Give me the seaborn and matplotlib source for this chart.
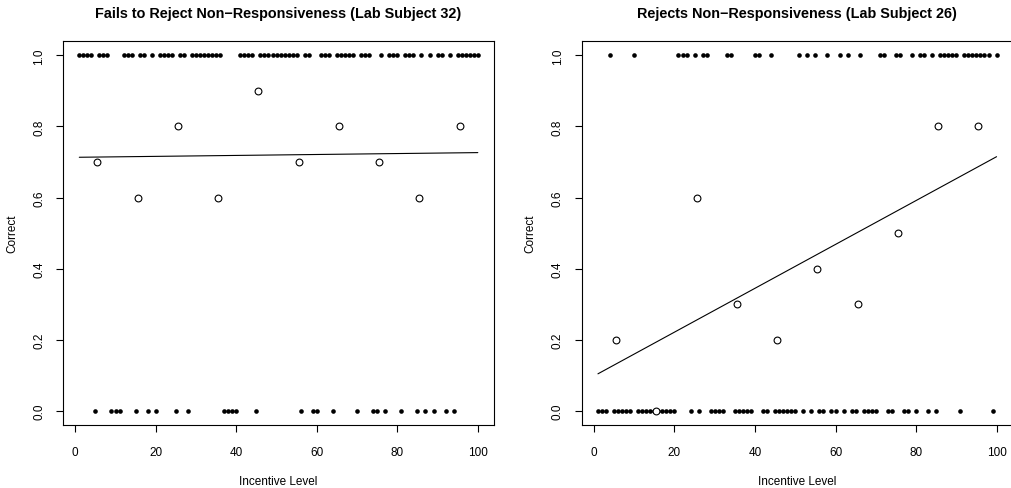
import matplotlib
matplotlib.use("Agg")
import matplotlib.pyplot as plt
import numpy as np
import pandas as pd
import seaborn as sns

sns.set_style("white")
plt.rcParams['font.family'] = ['Liberation Sans', 'DejaVu Sans']
plt.rcParams['text.color'] = 'black'
plt.rcParams['axes.labelcolor'] = 'black'
plt.rcParams['xtick.color'] = 'black'
plt.rcParams['ytick.color'] = 'black'

# incentive levels 1..100
incentive = list(range(1, 101))

# Lab Subject 32: correct (1) / incorrect (0), read in rows of 10
correct_32 = [1, 1, 1, 1, 0, 1, 1, 1, 0, 0,
              0, 1, 1, 1, 0, 1, 1, 0, 1, 0,
              1, 1, 1, 1, 0, 1, 1, 0, 1, 1,
              1, 1, 1, 1, 1, 1, 0, 0, 0, 0,
              1, 1, 1, 1, 0, 1, 1, 1, 1, 1,
              1, 1, 1, 1, 1, 0, 1, 1, 0, 0,
              1, 1, 1, 0, 1, 1, 1, 1, 1, 0,
              1, 1, 1, 0, 0, 1, 0, 1, 1, 1,
              0, 1, 1, 1, 0, 1, 0, 1, 0, 1,
              1, 0, 1, 0, 1, 1, 1, 1, 1, 1]

# Lab Subject 26
correct_26 = [0, 0, 0, 1, 0, 0, 0, 0, 0, 1,
              0, 0, 0, 0, 0, 0, 0, 0, 0, 0,
              1, 1, 1, 0, 1, 0, 1, 1, 0, 0,
              0, 0, 1, 1, 0, 0, 0, 0, 0, 1,
              1, 0, 0, 1, 0, 0, 0, 0, 0, 0,
              1, 0, 1, 0, 1, 0, 0, 1, 0, 0,
              1, 0, 1, 0, 0, 1, 0, 0, 0, 0,
              1, 1, 0, 0, 1, 1, 0, 0, 1, 0,
              1, 1, 0, 1, 0, 1, 1, 1, 1, 1,
              0, 1, 1, 1, 1, 1, 1, 1, 0, 1]

# binned means (open circles)
bin_centers = [5.5, 15.5, 25.5, 35.5, 45.5, 55.5, 65.5, 75.5, 85.5, 95.5]
bin_means_32 = [0.7, 0.6, 0.8, 0.6, 0.9, 0.7, 0.8, 0.7, 0.6, 0.8]
bin_means_26 = [0.2, 0.0, 0.6, 0.3, 0.2, 0.4, 0.3, 0.5, 0.8, 0.8]

titles = ["Fails to Reject Non\u2212Responsiveness (Lab Subject 32)",
          "Rejects Non\u2212Responsiveness (Lab Subject 26)"]

fig = plt.figure(figsize=(10.12, 4.89), dpi=100)
ax1 = fig.add_axes([0.0626, 0.128, 0.4253, 0.786])
ax2 = fig.add_axes([0.5751, 0.128, 0.4254, 0.786])

panels = [(ax1, correct_32, bin_means_32, titles[0]),
          (ax2, correct_26, bin_means_26, titles[1])]

for ax, corr, means, title in panels:
    df = pd.DataFrame({"Incentive Level": incentive, "Correct": corr})
    sns.scatterplot(data=df, x="Incentive Level", y="Correct", ax=ax,
                    color="black", s=11, linewidth=0, zorder=3)
    sns.regplot(data=df, x="Incentive Level", y="Correct", ax=ax,
                scatter=False, ci=None, line_kws={"color": "black", "lw": 0.8})
    ax.scatter(bin_centers, means, s=24, facecolors="white",
               edgecolors="black", linewidths=0.8, zorder=4)
    ax.set_xlim(-2.96, 103.96)
    ax.set_ylim(-0.04, 1.04)
    ax.set_xticks([0, 20, 40, 60, 80, 100])
    ax.set_yticks([0.0, 0.2, 0.4, 0.6, 0.8, 1.0])
    ax.set_yticklabels(["0.0", "0.2", "0.4", "0.6", "0.8", "1.0"],
                       rotation=90, va="center")
    ax.tick_params(axis="both", direction="out", length=5, width=0.8,
                   labelsize=8.5, color="black", left=True, bottom=True)
    ax.tick_params(axis="x", pad=10)
    ax.tick_params(axis="y", pad=8)
    for sp in ax.spines.values():
        sp.set_color("black")
        sp.set_linewidth(0.8)
    ax.set_xlabel("Incentive Level", fontsize=8.5, labelpad=12)
    ax.set_ylabel("Correct", fontsize=8.5, labelpad=11)
    ax.set_title(title, fontsize=10.4, fontweight="bold", pad=17)

fig.savefig("out.png", dpi=100)
